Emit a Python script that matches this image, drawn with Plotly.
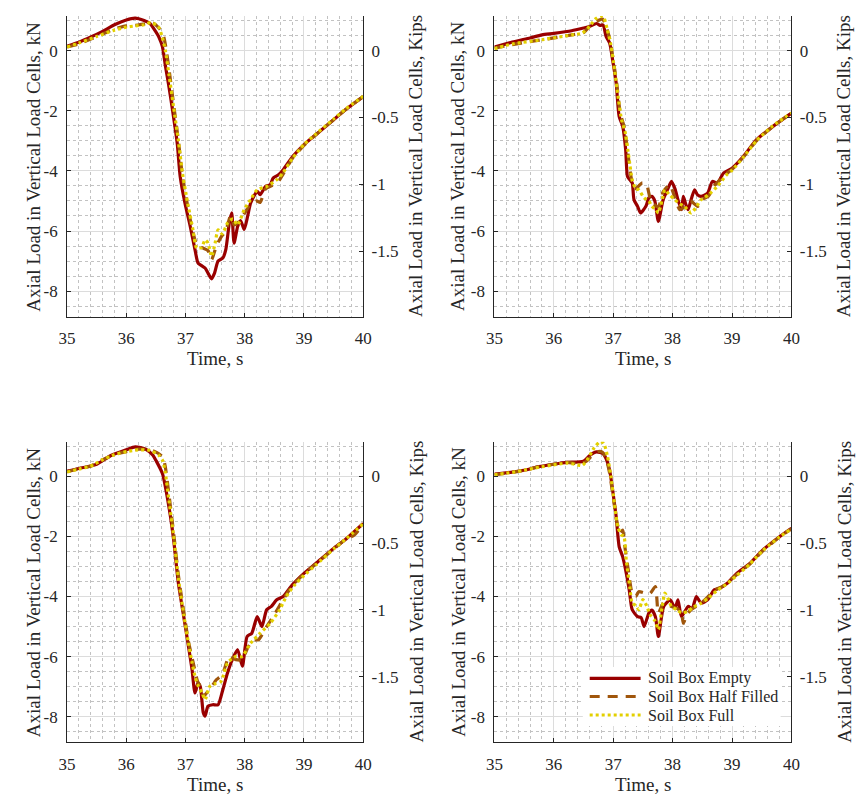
import plotly.graph_objects as go

# Conversion between the two vertical scales
KN_PER_KIP = 4.448222

TIME_RANGE = [35, 40]
KN_RANGE = [-8.85, 1.15]
KIP_RANGE = [KN_RANGE[0] / KN_PER_KIP, KN_RANGE[1] / KN_PER_KIP]

time_ticks = [35, 36, 37, 38, 39, 40]
kn_ticks = [0, -2, -4, -6, -8]
kip_ticks = [0, -0.5, -1, -1.5]

series_names = ["Soil Box Empty", "Soil Box Half Filled", "Soil Box Full"]
series_colors = ["#990000", "#A0560C", "#E3D000"]

# ---- Panel 1 (top left) ----
p1_empty_t = [35.0, 35.2, 35.4, 35.6, 35.8, 36.0, 36.15, 36.3, 36.4, 36.5, 36.55, 36.61, 36.66, 36.72,
              36.78, 36.86, 36.91, 36.99, 37.08, 37.16, 37.21, 37.27, 37.33, 37.38, 37.44, 37.49, 37.55,
              37.63, 37.68, 37.74, 37.78, 37.82, 37.88, 37.93, 37.99, 38.05, 38.1, 38.21, 38.26, 38.35,
              38.43, 38.48, 38.57, 38.65, 38.8, 39.0, 39.2, 39.5, 39.7, 40.0]
p1_empty_v = [0.15, 0.28, 0.45, 0.64, 0.86, 1.02, 1.08, 1.0, 0.9, 0.62, 0.45, 0.13, -0.5, -1.2,
              -1.97, -3.08, -4.19, -5.07, -5.85, -6.62, -7.06, -7.15, -7.23, -7.4, -7.59, -7.4, -7.0,
              -6.9, -6.62, -5.73, -5.4, -6.4, -5.85, -5.65, -5.95, -5.5, -5.07, -4.68, -4.79, -4.52,
              -4.46, -4.24, -4.13, -3.96, -3.55, -3.13, -2.8, -2.3, -1.97, -1.53]
p1_half_t = [35.0, 35.2, 35.4, 35.6, 35.8, 36.0, 36.2, 36.35, 36.45, 36.55, 36.62, 36.66, 36.72, 36.8,
             36.88, 36.95, 37.03, 37.12, 37.2, 37.3, 37.38, 37.44, 37.52, 37.6, 37.68, 37.76, 37.82,
             37.9, 38.0, 38.1, 38.2, 38.26, 38.35, 38.45, 38.55, 38.65, 38.8, 39.0, 39.2, 39.5, 39.7, 40.0]
p1_half_v = [0.12, 0.22, 0.38, 0.55, 0.72, 0.82, 0.85, 0.9, 0.92, 0.75, 0.55, 0.2, -0.6, -1.8,
             -3.0, -4.2, -5.1, -6.0, -6.5, -6.57, -6.65, -6.95, -6.5, -6.2, -6.0, -5.5, -5.8,
             -5.7, -5.4, -5.1, -5.0, -5.05, -4.6, -4.5, -4.4, -4.1, -3.6, -3.15, -2.8, -2.3, -1.97, -1.53]
p1_full_t = [35.0, 35.2, 35.5, 35.8, 36.0, 36.15, 36.3, 36.42, 36.54, 36.6, 36.66, 36.72, 36.8, 36.88,
             36.95, 37.03, 37.12, 37.19, 37.27, 37.33, 37.38, 37.44, 37.5, 37.55, 37.62, 37.71, 37.8,
             37.88, 37.99, 38.1, 38.21, 38.37, 38.54, 38.65, 38.8, 39.0, 39.2, 39.5, 39.7, 40.0]
p1_full_v = [0.12, 0.25, 0.47, 0.68, 0.78, 0.82, 0.86, 0.93, 0.8, 0.5, 0.0, -0.8, -1.9, -3.0,
             -4.1, -5.0, -5.9, -6.57, -6.55, -6.3, -6.4, -6.84, -6.4, -5.96, -6.1, -5.73, -5.6,
             -5.8, -5.29, -4.95, -4.63, -4.52, -4.3, -4.05, -3.6, -3.12, -2.78, -2.28, -1.95, -1.52]

# ---- Panel 2 (top right) ----
p2_empty_t = [35.0, 35.3, 35.6, 35.8, 36.0, 36.3, 36.5, 36.6, 36.72, 36.78, 36.83, 36.88, 36.94, 36.99,
              37.05, 37.1, 37.16, 37.21, 37.24, 37.28, 37.32, 37.35, 37.41, 37.46, 37.55, 37.6, 37.65,
              37.7, 37.76, 37.84, 37.92, 37.98, 38.04, 38.09, 38.15, 38.18, 38.22, 38.26, 38.32, 38.37,
              38.42, 38.48, 38.59, 38.67, 38.75, 38.86, 39.0, 39.19, 39.41, 39.69, 40.0]
p2_empty_v = [0.12, 0.28, 0.42, 0.52, 0.57, 0.66, 0.75, 0.8, 0.9, 0.84, 0.85, 0.47, 0.25, -0.31,
              -1.08, -2.19, -2.52, -3.3, -4.19, -4.3, -4.4, -4.96, -5.18, -5.4, -5.18, -4.9, -4.85,
              -5.0, -5.68, -4.96, -4.6, -4.35, -4.6, -4.96, -5.29, -4.85, -5.1, -5.29, -4.9, -4.63,
              -4.8, -4.85, -4.74, -4.35, -4.41, -4.07, -3.91, -3.52, -2.97, -2.52, -2.08]
p2_half_t = [35.0, 35.3, 35.6, 35.8, 36.0, 36.3, 36.5, 36.6, 36.68, 36.75, 36.82, 36.88, 36.94, 37.0,
             37.06, 37.12, 37.18, 37.24, 37.3, 37.36, 37.43, 37.49, 37.56, 37.62, 37.68, 37.76, 37.84,
             37.95, 38.04, 38.12, 38.2, 38.3, 38.42, 38.5, 38.6, 38.7, 38.8, 38.9, 39.0, 39.19, 39.41,
             39.69, 40.0]
p2_half_v = [0.08, 0.2, 0.3, 0.36, 0.42, 0.52, 0.6, 0.8, 0.95, 1.0, 1.05, 0.8, 0.4, -0.3,
             -1.1, -2.1, -2.5, -3.3, -4.2, -4.6, -4.5, -4.4, -4.45, -4.9, -5.1, -5.2, -4.7,
             -4.46, -4.9, -5.29, -5.2, -5.0, -5.18, -4.95, -4.85, -4.5, -4.3, -4.1, -3.95, -3.55, -3.0,
             -2.52, -2.08]
p2_full_t = [35.0, 35.3, 35.8, 36.3, 36.48, 36.6, 36.7, 36.78, 36.84, 36.9, 36.96, 37.02, 37.08, 37.14,
             37.2, 37.26, 37.32, 37.38, 37.43, 37.52, 37.6, 37.65, 37.72, 37.76, 37.82, 37.87, 37.95,
             38.04, 38.12, 38.2, 38.31, 38.4, 38.48, 38.6, 38.76, 38.9, 39.0, 39.19, 39.41, 39.69, 40.0]
p2_full_v = [0.06, 0.22, 0.36, 0.52, 0.58, 0.8, 1.05, 1.15, 1.1, 0.7, 0.2, -0.6, -1.5, -2.3,
             -2.7, -3.5, -4.3, -4.6, -4.63, -4.9, -5.0, -5.18, -5.3, -5.4, -5.0, -4.63, -4.8,
             -4.96, -5.1, -5.18, -5.4, -5.2, -4.96, -4.8, -4.5, -4.15, -3.98, -3.55, -3.0, -2.5, -2.08]

# ---- Panel 3 (bottom left) ----
p3_empty_t = [35.0, 35.2, 35.4, 35.5, 35.75, 36.0, 36.15, 36.33, 36.45, 36.5, 36.61, 36.72, 36.8, 36.88,
              36.97, 37.05, 37.11, 37.16, 37.21, 37.25, 37.3, 37.33, 37.38, 37.46, 37.55, 37.63, 37.71,
              37.79, 37.88, 37.96, 38.04, 38.12, 38.21, 38.29, 38.37, 38.45, 38.54, 38.65, 38.8, 39.0,
              39.2, 39.5, 39.7, 40.0]
p3_empty_v = [0.17, 0.26, 0.34, 0.4, 0.7, 0.88, 0.98, 0.9, 0.7, 0.53, 0.09, -1.02, -2.12, -3.56,
              -4.67, -5.66, -6.43, -7.21, -6.88, -7.0, -7.87, -7.98, -7.65, -7.6, -7.6, -7.1, -6.54,
              -6.1, -5.77, -6.32, -5.33, -5.22, -4.67, -5.0, -4.44, -4.33, -4.11, -4.0, -3.62, -3.23,
              -2.9, -2.4, -2.1, -1.57]
p3_half_t = [35.0, 35.2, 35.4, 35.6, 35.8, 36.0, 36.2, 36.4, 36.55, 36.62, 36.66, 36.72, 36.8, 36.88,
             36.97, 37.05, 37.13, 37.2, 37.25, 37.3, 37.36, 37.41, 37.52, 37.62, 37.74, 37.85, 37.96,
             38.05, 38.15, 38.23, 38.37, 38.5, 38.65, 38.8, 39.0, 39.2, 39.5, 39.7, 39.85, 40.0]
p3_half_v = [0.15, 0.25, 0.34, 0.55, 0.72, 0.82, 0.9, 0.88, 0.75, 0.62, 0.3, -0.6, -1.9, -3.3,
             -4.5, -5.5, -6.21, -6.8, -7.0, -7.32, -7.2, -7.1, -6.77, -6.6, -5.99, -6.1, -6.1,
             -5.7, -5.44, -5.44, -5.0, -4.6, -4.1, -3.65, -3.25, -2.92, -2.42, -2.1, -1.95, -1.6]
p3_full_t = [35.0, 35.2, 35.4, 35.6, 35.8, 36.0, 36.2, 36.4, 36.55, 36.62, 36.66, 36.72, 36.8, 36.88,
             36.97, 37.05, 37.11, 37.16, 37.22, 37.28, 37.33, 37.41, 37.5, 37.6, 37.71, 37.85, 37.95,
             38.1, 38.26, 38.43, 38.59, 38.7, 38.85, 39.0, 39.2, 39.5, 39.7, 40.0]
p3_full_v = [0.14, 0.24, 0.34, 0.55, 0.72, 0.82, 0.88, 0.86, 0.7, 0.5, 0.1, -0.8, -2.0, -3.4,
             -4.6, -5.55, -6.2, -6.66, -7.0, -7.2, -7.43, -6.99, -6.9, -6.82, -6.21, -5.99, -6.0,
             -5.55, -5.22, -4.89, -4.44, -4.0, -3.6, -3.3, -2.95, -2.42, -2.1, -1.58]

# ---- Panel 4 (bottom right) ----
p4_empty_t = [35.0, 35.3, 35.5, 35.75, 36.0, 36.22, 36.5, 36.61, 36.72, 36.83, 36.88, 36.94, 36.99, 37.05,
              37.1, 37.16, 37.21, 37.27, 37.32, 37.41, 37.47, 37.52, 37.6, 37.65, 37.71, 37.76, 37.85,
              37.96, 38.04, 38.09, 38.15, 38.26, 38.33, 38.4, 38.48, 38.59, 38.7, 38.8, 38.92, 39.08,
              39.3, 39.52, 39.8, 40.0]
p4_empty_v = [0.07, 0.14, 0.2, 0.32, 0.4, 0.46, 0.5, 0.7, 0.81, 0.75, 0.59, 0.2, -0.46, -1.35,
              -2.34, -2.68, -3.12, -3.78, -4.44, -4.67, -4.7, -5.0, -4.55, -4.45, -4.67, -5.33, -4.33,
              -4.11, -4.39, -4.11, -4.67, -4.33, -4.4, -4.0, -4.22, -4.11, -3.78, -3.72, -3.56, -3.23,
              -2.9, -2.45, -2.01, -1.73]
p4_half_t = [35.0, 35.3, 35.5, 35.75, 36.0, 36.22, 36.45, 36.55, 36.65, 36.75, 36.82, 36.88, 36.94, 37.0,
             37.06, 37.12, 37.16, 37.2, 37.26, 37.32, 37.38, 37.43, 37.54, 37.62, 37.71, 37.76, 37.85,
             37.98, 38.08, 38.15, 38.18, 38.24, 38.31, 38.42, 38.55, 38.7, 38.85, 39.0, 39.3, 39.52,
             39.8, 40.0]
p4_half_v = [0.05, 0.13, 0.2, 0.32, 0.4, 0.46, 0.42, 0.5, 0.7, 0.82, 0.8, 0.6, 0.1, -0.7,
             -1.5, -1.9, -1.79, -2.4, -3.2, -3.9, -4.0, -3.84, -3.89, -3.9, -3.67, -4.55, -4.2,
             -4.33, -4.4, -4.55, -4.89, -4.6, -4.44, -4.3, -4.1, -3.8, -3.65, -3.4, -2.92, -2.48,
             -2.02, -1.75]
p4_full_t = [35.0, 35.3, 35.5, 35.75, 36.0, 36.22, 36.4, 36.48, 36.58, 36.68, 36.78, 36.84, 36.9, 36.96,
             37.02, 37.08, 37.14, 37.18, 37.22, 37.28, 37.32, 37.38, 37.43, 37.5, 37.56, 37.62, 37.7,
             37.76, 37.82, 37.87, 37.93, 37.98, 38.08, 38.15, 38.25, 38.35, 38.48, 38.6, 38.75, 38.9,
             39.08, 39.3, 39.52, 39.8, 40.0]
p4_full_v = [0.05, 0.13, 0.2, 0.3, 0.38, 0.44, 0.38, 0.36, 0.6, 0.95, 1.15, 1.1, 0.7, 0.0,
             -0.9, -1.7, -1.95, -2.0, -2.8, -3.7, -4.22, -4.3, -4.44, -4.1, -4.3, -4.6, -4.8,
             -5.1, -4.4, -3.89, -4.1, -4.33, -4.45, -4.55, -4.5, -4.35, -4.22, -4.05, -3.8, -3.6,
             -3.3, -2.92, -2.47, -2.02, -1.75]

panels = [
    [(p1_empty_t, p1_empty_v), (p1_half_t, p1_half_v), (p1_full_t, p1_full_v)],
    [(p2_empty_t, p2_empty_v), (p2_half_t, p2_half_v), (p2_full_t, p2_full_v)],
    [(p3_empty_t, p3_empty_v), (p3_half_t, p3_half_v), (p3_full_t, p3_full_v)],
    [(p4_empty_t, p4_empty_v), (p4_half_t, p4_half_v), (p4_full_t, p4_full_v)],
]

W, H = 867, 798
# plot-area pixel boxes for each column / row
col_px = [(59.3, 361.7), (495.7, 799.0)]
row_px = [(16.0, 316.7), (441.7, 742.3)]

FONT = "Liberation Serif"
INK = "#262626"
dash_styles = ["solid", "10px,8px", "3px,3px"]
LINE_W = 3.2

fig = go.Figure()
layout = dict(
    width=W, height=H,
    margin=dict(l=0, r=0, t=0, b=0),
    paper_bgcolor="white", plot_bgcolor="white",
    font=dict(family=FONT, size=17, color=INK),
    showlegend=False,
    annotations=[], shapes=[],
)

tick_font = dict(size=17, family=FONT, color=INK)
title_font = dict(size=19, family=FONT, color=INK)

for i, series in enumerate(panels):
    r, c = divmod(i, 2)
    x0, x1 = col_px[c]
    ytop, ybot = row_px[r]
    xdom = [x0 / W, x1 / W]
    ydom = [1 - ybot / H, 1 - ytop / H]
    n = i + 1
    xa = "x" if n == 1 else f"x{n}"
    ya = "y" if n == 1 else f"y{n}"
    yr = f"y{n + 4}"
    xkey = "xaxis" if n == 1 else f"xaxis{n}"
    ykey = "yaxis" if n == 1 else f"yaxis{n}"
    yrkey = f"yaxis{n + 4}"

    for k, (tv, vv) in enumerate(series):
        fig.add_trace(go.Scatter(
            x=tv, y=vv, xaxis=xa, yaxis=ya, mode="lines",
            name=series_names[k],
            line=dict(color=series_colors[k], width=LINE_W, dash=dash_styles[k],
                      shape="spline", smoothing=0.6),
            hoverinfo="skip",
        ))
    # empty trace so the kip axis gets its own subplot
    fig.add_trace(go.Scatter(x=[], y=[], xaxis=xa, yaxis=yr, mode="lines",
                             hoverinfo="skip", showlegend=False))

    layout[xkey] = dict(
        domain=xdom, anchor=ya, range=TIME_RANGE,
        tickvals=time_ticks, ticktext=[str(t) for t in time_ticks],
        ticks="inside", ticklen=4, tickcolor=INK, tickfont=tick_font,
        showline=True, linecolor=INK, linewidth=1, mirror=False, zeroline=False,
        showgrid=True, gridcolor="#dcdcdc", gridwidth=1,
        minor=dict(tick0=35, dtick=0.2, showgrid=True, gridcolor="#c2c2c2", griddash="dot", gridwidth=1),
        ticklabelstandoff=6, fixedrange=True,
    )
    layout[ykey] = dict(
        domain=ydom, anchor=xa, range=KN_RANGE,
        tickvals=kn_ticks, ticktext=[str(v) for v in kn_ticks],
        ticks="inside", ticklen=4, tickcolor=INK, tickfont=tick_font,
        showline=True, linecolor=INK, linewidth=1, mirror=False, zeroline=False,
        showgrid=True, gridcolor="#dcdcdc", gridwidth=1,
        minor=dict(tick0=0, dtick=0.5, showgrid=True, gridcolor="#c2c2c2", griddash="dot", gridwidth=1),
        ticklabelstandoff=5, fixedrange=True,
    )
    layout[yrkey] = dict(
        overlaying=ya, anchor=xa, side="right", range=KIP_RANGE,
        tickvals=kip_ticks, ticktext=["0", "-0.5", "-1", "-1.5"],
        ticks="inside", ticklen=4, tickcolor=INK, tickfont=tick_font,
        showline=True, linecolor=INK, linewidth=1, zeroline=False, showgrid=False,
        ticklabelstandoff=4, fixedrange=True,
    )

    # axis titles
    ymid = 1 - (ytop + ybot) / 2 / H
    left_title_x = (x0 - 34.5) / W if c == 0 else (x0 - 37.5) / W
    right_title_x = (x1 + 53.5) / W
    layout["annotations"] += [
        dict(text="Axial Load in Vertical Load Cells, kN", x=left_title_x, y=ymid,
             xref="paper", yref="paper", textangle=-90, showarrow=False,
             xanchor="center", yanchor="middle", font=title_font),
        dict(text="Axial Load in Vertical Load Cells, Kips", x=right_title_x, y=ymid,
             xref="paper", yref="paper", textangle=-90, showarrow=False,
             xanchor="center", yanchor="middle", font=title_font),
        dict(text="Time, s", x=(x0 + x1) / 2 / W, y=1 - (ybot + 42) / H,
             xref="paper", yref="paper", showarrow=False,
             xanchor="center", yanchor="middle", font=title_font),
    ]

# legend block inside the bottom-right panel
leg_box = (586, 667, 788, 726)
layout["shapes"].append(dict(
    type="rect", xref="paper", yref="paper", layer="above",
    x0=leg_box[0] / W, x1=leg_box[2] / W, y0=1 - leg_box[3] / H, y1=1 - leg_box[1] / H,
    fillcolor="white", line=dict(width=0),
))
leg_rows = [678.3, 696.5, 715.0]
for k, name in enumerate(series_names):
    yy = 1 - leg_rows[k] / H
    layout["shapes"].append(dict(
        type="line", xref="paper", yref="paper", layer="above",
        x0=593 / W, x1=645 / W, y0=yy, y1=yy,
        line=dict(color=series_colors[k], width=LINE_W, dash=dash_styles[k]),
    ))
    layout["annotations"].append(dict(
        text=name, x=650 / W, y=yy, xref="paper", yref="paper", showarrow=False,
        xanchor="left", yanchor="middle", font=dict(size=16, family=FONT, color=INK),
    ))

fig.update_layout(**layout)
fig.write_html("out.html")
